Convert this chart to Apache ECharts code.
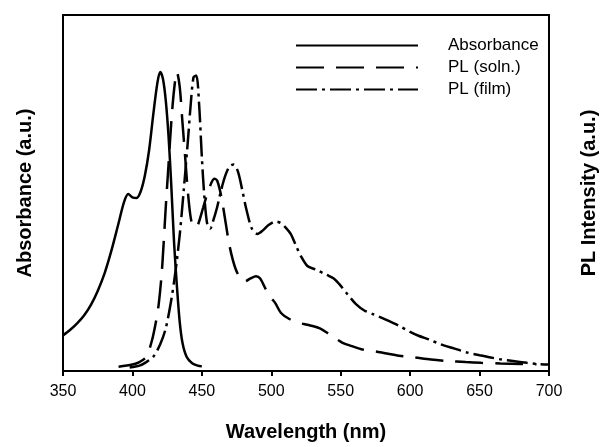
<!DOCTYPE html>
<html>
<head>
<meta charset="utf-8">
<script src="https://cdn.jsdelivr.net/npm/echarts@6/dist/echarts.min.js"></script>
<style>
html,body{margin:0;padding:0;background:#fff;}
#chart{width:607px;height:447px;}
</style>
</head>
<body>
<div id="chart"></div>
<script>
// X-axis ticks
const xTicks = [350, 400, 450, 500, 550, 600, 650, 700];

// Absorbance (solid)
const absWl = [350,355,360,365,370,375,380,385,390,394,397,400,403,406,409,412,415,418,420,422,424,426,428,430,432,434,436,439,443,447,450];
const absVal = [10,11.5,13.3,15.5,18.5,22.5,27.5,34,41.5,47.5,49.7,48.8,48.6,50.5,55,62,72,81,84,82,76,66,52,36,24,14,8,4,2.2,1.5,1.3];

// PL (soln.) (dashed)
const solnWl = [390,400,405,410,414,417,419,421,422.5,424,426,428,430,432,434,436,438,440,442,444,446,448,451,455,459,461,464,467,470,474,478,481,485,489,492,496,500,503,507,513,520,526,535,543,551,558,566,575,582,592,603,615,627,640,651,665,680,691];
const solnVal = [1.2,1.8,2.5,4,8.5,14,19,27,36,46,58,70,79,84,80,70,60,50,43,40.5,40.4,42,46,51,54,53.5,49,42,35,29,25.8,25.2,26,26.6,26,23,20.5,19,16.3,14.6,13.5,13,12,10,8,7,6,5.5,5,4.3,3.8,3.2,2.8,2.5,2.3,2.1,2,1.9];

// PL (film) (dash-dot)
const filmWl = [398,405,410,415,420,424,428,431,434,437,440,442,444,446,448,450,452,454,456,458,461,464,467,470,473,476,479,482,486,490,494,498,503,507,511,514,518,521,526,532,540,545,549,555,561,567,573,582,592,600,606,614,622,632,641,650,658,666,674,684,693,700];
const filmVal = [1,1.5,2.5,4,7.5,12,20,28,38,51,65,75,82.5,83,75,60,48,41,40,42,46,51,55,57.5,58,56,51,45.5,40,38.5,39.5,41,42,41.5,40,38.5,35,32.5,29.5,28.5,27,26,24.4,21.5,18.8,17,16,14.5,12.7,11,9.9,8.8,7.5,6.3,5.2,4.4,3.8,3.2,2.8,2.3,1.9,1.8];

const zip = (a, b) => a.map((x, i) => [x, b[i]]);
const FONT = "'Liberation Sans', Arial, sans-serif";

const chart = echarts.init(document.getElementById('chart'), null, {renderer: 'canvas'});
chart.setOption({
  animation: false,
  backgroundColor: '#fff',
  grid: {left: 63, right: 51, top: 15, bottom: 75, show: true, borderColor: '#000', borderWidth: 2, backgroundColor: 'transparent'},
  legend: {
    orient: 'vertical', left: 295, top: 37, padding: 0,
    itemWidth: 122, itemHeight: 14, itemGap: 5,
    itemStyle: {opacity: 0},
    textStyle: {fontFamily: FONT, fontSize: 17, color: '#000', padding: [0, 0, 0, 25]},
    data: ['Absorbance', 'PL (soln.)', 'PL (film)']
  },
  xAxis: {
    type: 'value', min: xTicks[0], max: xTicks[xTicks.length - 1], interval: 50,
    name: 'Wavelength (nm)', nameLocation: 'middle', nameGap: 51,
    nameTextStyle: {fontFamily: FONT, fontSize: 20, fontWeight: 'bold', color: '#000'},
    axisLine: {show: true, lineStyle: {color: '#000', width: 2}},
    axisTick: {show: true, inside: false, length: 5, lineStyle: {color: '#000', width: 2}},
    axisLabel: {fontFamily: FONT, fontSize: 16, color: '#000', margin: 13},
    splitLine: {show: false}
  },
  yAxis: [{
    type: 'value', min: 0, max: 100, position: 'left',
    name: 'Absorbance (a.u.)', nameLocation: 'middle', nameGap: 28,
    nameTextStyle: {fontFamily: FONT, fontSize: 20, fontWeight: 'bold', color: '#000'},
    axisLine: {show: true, lineStyle: {color: '#000', width: 2}},
    axisTick: {show: false}, axisLabel: {show: false}, splitLine: {show: false}
  }, {
    type: 'value', min: 0, max: 100, position: 'right',
    name: 'PL Intensity (a.u.)', nameLocation: 'middle', nameGap: 30, nameRotate: 90,
    nameTextStyle: {fontFamily: FONT, fontSize: 20, fontWeight: 'bold', color: '#000'},
    axisLine: {show: true, lineStyle: {color: '#000', width: 2}},
    axisTick: {show: false}, axisLabel: {show: false}, splitLine: {show: false}
  }],
  series: [{
    name: 'Absorbance', type: 'line', yAxisIndex: 0, data: zip(absWl, absVal),
    symbol: 'none', smooth: 0.3, color: '#000',
    lineStyle: {color: '#000', width: 2.5, type: 'solid'}
  }, {
    name: 'PL (soln.)', type: 'line', yAxisIndex: 1, data: zip(solnWl, solnVal),
    symbol: 'none', smooth: 0.3, color: '#000',
    lineStyle: {color: '#000', width: 2.5, type: [28, 12]}
  }, {
    name: 'PL (film)', type: 'line', yAxisIndex: 1, data: zip(filmWl, filmVal),
    symbol: 'none', smooth: 0.3, color: '#000',
    lineStyle: {color: '#000', width: 2.5, type: [21, 5, 3, 5]}
  }]
});
</script>
</body>
</html>
